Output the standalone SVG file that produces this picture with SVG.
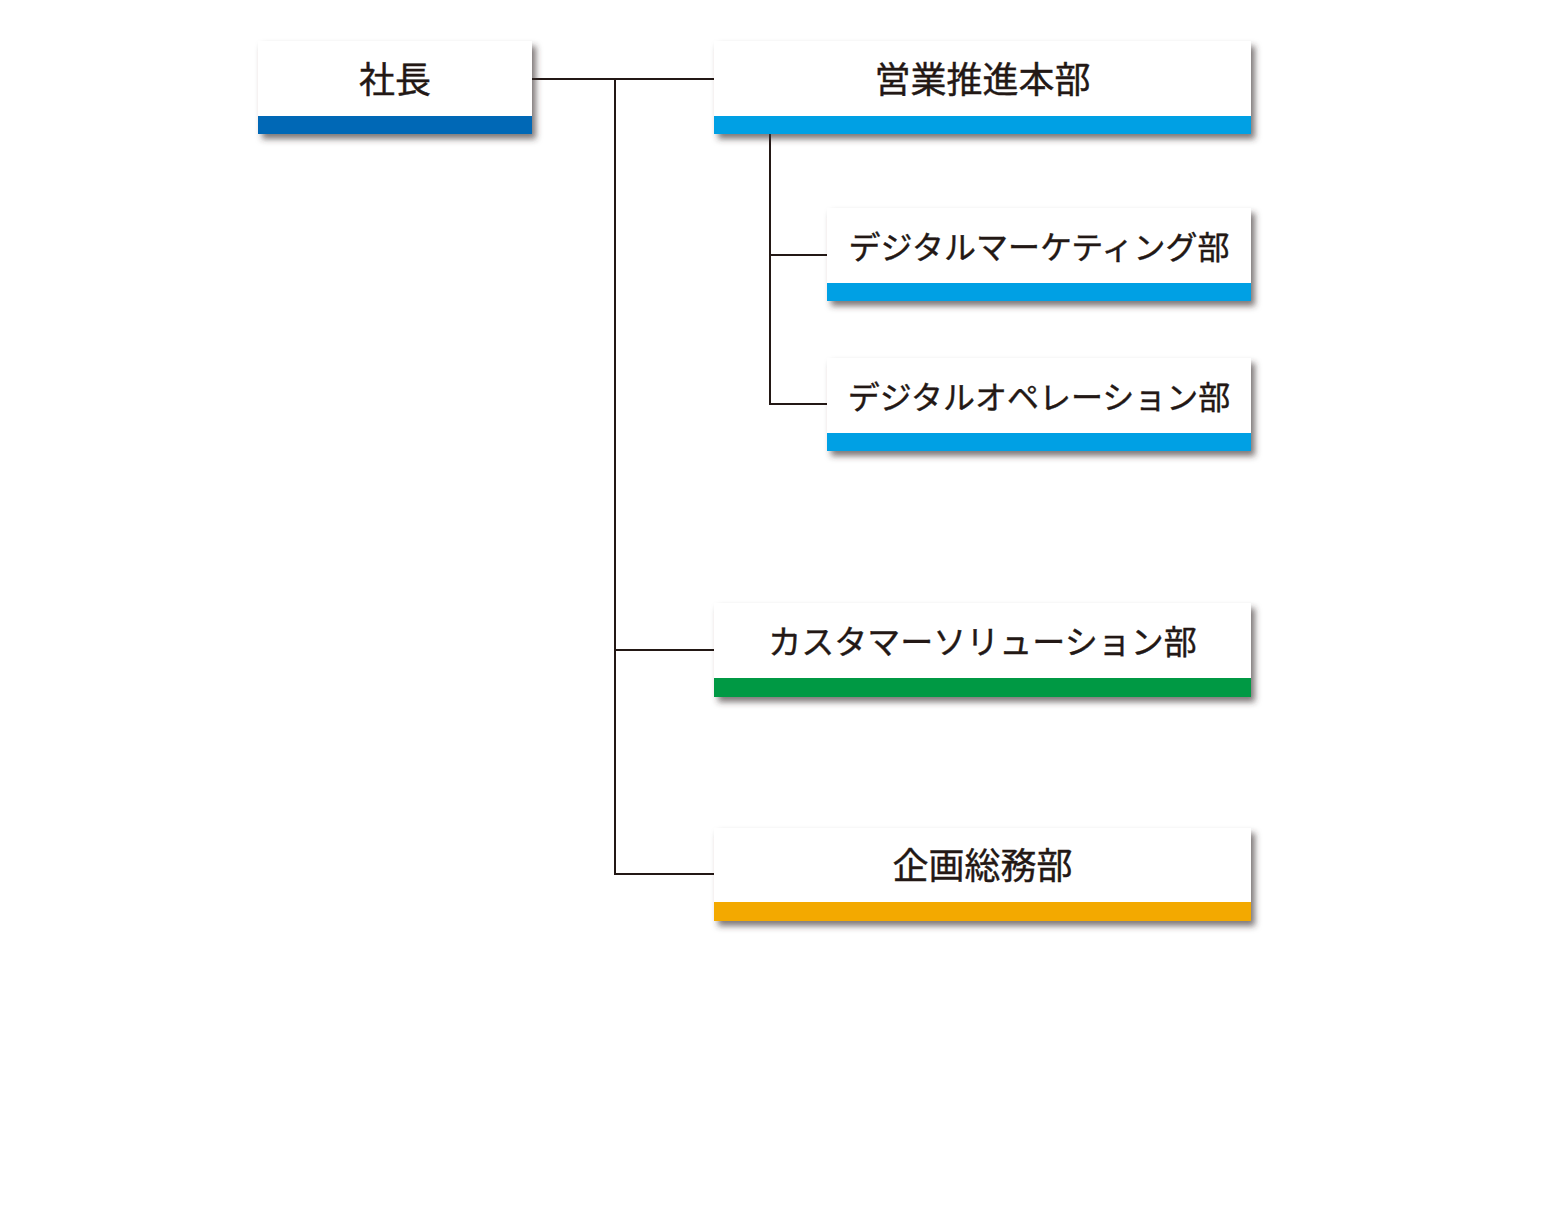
<svg xmlns="http://www.w3.org/2000/svg" width="1559" height="1232" viewBox="0 0 1559 1232">
<defs>
<filter id="sh" x="-5%" y="-10%" width="115%" height="135%">
<feDropShadow dx="4" dy="5" stdDeviation="3" flood-color="#3a3030" flood-opacity="0.65"/>
</filter>
<style>
.box{fill:#ffffff;filter:url(#sh)}
.lbl{font-family:"Noto Sans CJK JP","Noto Sans",sans-serif;font-size:32px;fill:#231815;text-anchor:middle;stroke:#231815;stroke-width:0.4}
.k{font-size:36px}
.c{font-size:33px}
.ln{stroke:#231815;stroke-width:2;fill:none}
.b1{fill:#0068b6}.b2{fill:#00a0e4}.b3{fill:#009944}.b4{fill:#f3a900}
</style>
</defs>
<rect width="1559" height="1232" fill="#ffffff"/>
<g id="connectors">
<path class="ln" d="M532 79H714M615 79V874H714M615 650H714M770 134V404H827M770 255H827"/>
</g>
<g id="president">
<rect class="box" x="258" y="41" width="274" height="93"/>
<rect class="b1" x="258" y="116" width="274" height="18"/>
<text class="lbl k" x="395" y="93">社長</text>
</g>
<g id="sales">
<rect class="box" x="714" y="41" width="537" height="93"/>
<rect class="b2" x="714" y="116" width="537" height="18"/>
<text class="lbl k" x="982.5" y="93">営業推進本部</text>
</g>
<g id="digital-marketing">
<rect class="box" x="827" y="208" width="424" height="93"/>
<rect class="b2" x="827" y="283" width="424" height="18"/>
<text class="lbl" x="1039" y="259">デジタルマーケティング部</text>
</g>
<g id="digital-operation">
<rect class="box" x="827" y="358" width="424" height="93"/>
<rect class="b2" x="827" y="433" width="424" height="18"/>
<text class="lbl" x="1039" y="409">デジタルオペレーション部</text>
</g>
<g id="customer-solution">
<rect class="box" x="714" y="603" width="537" height="94"/>
<rect class="b3" x="714" y="678" width="537" height="19"/>
<text class="lbl c" x="982.5" y="654">カスタマーソリューション部</text>
</g>
<g id="planning">
<rect class="box" x="714" y="828" width="537" height="93"/>
<rect class="b4" x="714" y="902" width="537" height="19"/>
<text class="lbl k" x="982.5" y="879">企画総務部</text>
</g>
</svg>
